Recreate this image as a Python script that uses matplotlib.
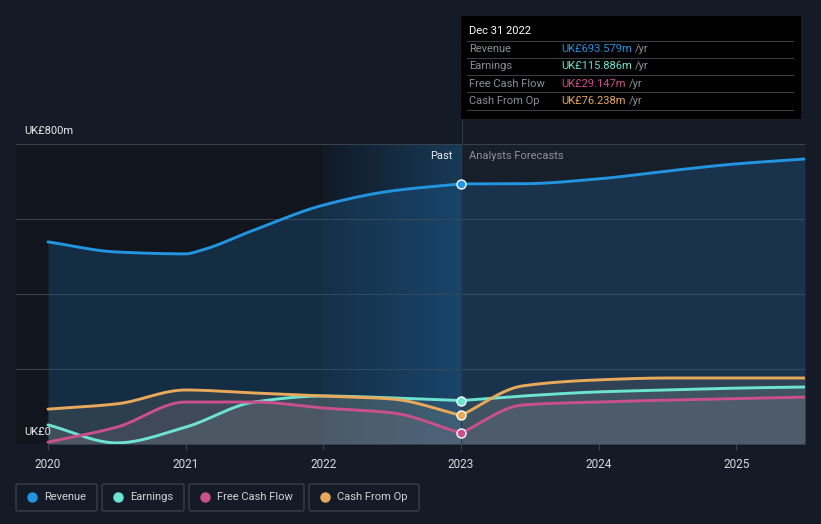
import numpy as np
import matplotlib
matplotlib.use("Agg")
import matplotlib.pyplot as plt
from matplotlib.patches import Rectangle, FancyBboxPatch
from matplotlib.lines import Line2D

plt.rcParams['font.family'] = ['Roboto', 'DejaVu Sans']

# values in UK£m
past_x = [2020.0, 2020.5, 2021.0, 2021.1, 2021.5, 2022.0, 2022.5, 2023.0]
fc_x = [2023.0, 2023.45, 2024.0, 2024.5, 2025.0, 2025.5]

revenue_past = [539, 512, 507, 515, 571, 637, 675, 693.6]
revenue_fc = [693.6, 694, 707, 728, 747, 760]

earn_x = [2020.0, 2020.5, 2021.0, 2021.5, 2022.0, 2022.5, 2023.0]
earnings_past = [51, 3, 45, 112, 128, 123, 115.9]
earnings_fc = [115.9, 128, 139, 144, 149, 152]

fcf_x = [2020.0, 2020.5, 2021.0, 2021.5, 2022.0, 2022.5, 2023.0]
fcf_past = [5, 45, 112, 112, 96, 83, 29.1]
fcf_fc = [29.1, 104, 112, 117, 121, 125]

cfo_x = [2020.0, 2020.5, 2021.0, 2021.5, 2022.0, 2022.5, 2023.0]
cfo_past = [93, 107, 144, 136, 128, 120, 76.2]
cfo_fc = [76.2, 155, 171, 176, 176, 176]

names = ['Revenue', 'Earnings', 'Free Cash Flow', 'Cash From Op']
colors = ['#2394df', '#6de3d1', '#c9508a', '#e8aa5a']
tip_values = ['UK£693.579m', 'UK£115.886m', 'UK£29.147m', 'UK£76.238m']
years = [2020, 2021, 2022, 2023, 2024, 2025]

BG = '#151b26'
W, H = 821, 524


def pchip(x, y, n=200):
    x = np.asarray(x, float)
    y = np.asarray(y, float)
    h = np.diff(x)
    d = np.diff(y) / h
    m = np.zeros_like(y)
    for i in range(1, len(y) - 1):
        if d[i - 1] * d[i] > 0:
            w1 = 2 * h[i] + h[i - 1]
            w2 = h[i] + 2 * h[i - 1]
            m[i] = (w1 + w2) / (w1 / d[i - 1] + w2 / d[i])
    m[0] = d[0]
    m[-1] = d[-1]
    xs = np.linspace(x[0], x[-1], n)
    idx = np.clip(np.searchsorted(x, xs) - 1, 0, len(h) - 1)
    t = (xs - x[idx]) / h[idx]
    h00 = 2 * t**3 - 3 * t**2 + 1
    h10 = t**3 - 2 * t**2 + t
    h01 = -2 * t**3 + 3 * t**2
    h11 = t**3 - t**2
    ys = h00 * y[idx] + h10 * h[idx] * m[idx] + h01 * y[idx + 1] + h11 * h[idx] * m[idx + 1]
    return xs, ys


def fx(px):
    return px / W


def fy(py):
    return 1 - py / H


fig = plt.figure(figsize=(W / 100, H / 100), dpi=100, facecolor=BG)
ax = fig.add_axes([fx(16), fy(444), fx(805) - fx(16), fy(144) - fy(444)])
ax.set_facecolor(BG)
x0 = 2020 - 32 / 137.7
x1 = 2025.5
ax.set_xlim(x0, x1)
ax.set_ylim(0, 800)

# background regions
ax.axvspan(x0, 2022, color='#11151d', zorder=0, lw=0)
ax.axvspan(2023, x1, color='#171f2b', zorder=0, lw=0)
grad = np.linspace(0, 1, 256).reshape(1, -1)
ax.imshow(grad, extent=[2022, 2023, 0, 800], aspect='auto', cmap=matplotlib.colors.LinearSegmentedColormap.from_list(
    'band', ['#111a26', '#173a58']), zorder=0.5)

for yv in [200, 400, 600, 800]:
    ax.axhline(yv, color='#3a404b', lw=0.8, zorder=1)
ax.axhline(0, color='#3a404b', lw=0.8, zorder=1)

series = [
    (past_x, revenue_past, revenue_fc),
    (earn_x, earnings_past, earnings_fc),
    (fcf_x, fcf_past, fcf_fc),
    (cfo_x, cfo_past, cfo_fc),
]

for i, (px, yp, yf) in enumerate(series):
    xs1, ys1 = pchip(px, yp)
    xs2, ys2 = pchip(fc_x, yf)
    xs = np.concatenate([xs1, xs2])
    ys = np.concatenate([ys1, ys2])
    if i == 0:
        ax.fill_between(xs, 0, ys, color='#1d5a8a', alpha=0.35, lw=0, zorder=2)
    else:
        ax.fill_between(xs, 0, ys, color='#8a8f9a', alpha=0.13, lw=0, zorder=2)
        ax.fill_between(xs, 0, ys, color=colors[i], alpha=0.05, lw=0, zorder=2)
    ax.plot(xs, ys, color=colors[i], lw=2.1, zorder=4, solid_capstyle='round')
    ax.scatter([2023], [yp[-1]], s=42, color=colors[i], edgecolor='white', linewidth=1.0, zorder=6)

ax.axvline(2023, color='#2f3a48', lw=0.8, zorder=3)

for s in ax.spines.values():
    s.set_visible(False)
ax.set_yticks([])
ax.set_xticks(years)
ax.set_xticklabels([str(y) for y in years], color='#d6d9de', fontsize=8.5)
ax.tick_params(axis='x', length=4, color='#3a404b', pad=6)

fig.text(fx(24), fy(131), 'UK£800m', color='#e8eaed', fontsize=8, va='center')
fig.text(fx(24), fy(432), 'UK£0', color='#e8eaed', fontsize=8, va='center')
fig.text(fx(452), fy(156), 'Past', color='#e8eaed', fontsize=8, va='center', ha='right')
fig.text(fx(469), fy(156), 'Analysts Forecasts', color='#8c919a', fontsize=8, va='center')

# tooltip
fig.add_artist(Line2D([fx(461.5), fx(461.5)], [fy(16), fy(144)], color='#2f3a48', lw=0.8))
fig.add_artist(Rectangle((fx(461), fy(119)), fx(801) - fx(461), fy(16) - fy(119),
                         facecolor='black', edgecolor='none', zorder=10))
fig.text(fx(469), fy(31), 'Dec 31 2022', color='white', fontsize=8, va='center', zorder=11)
row_y = [49, 66, 84, 101]
for yy in [41, 58, 75, 92, 110]:
    fig.add_artist(Line2D([fx(467), fx(793)], [fy(yy), fy(yy)], color='#3a3d42', lw=0.8, zorder=11))
fig.canvas.draw()
rend = fig.canvas.get_renderer()
for i in range(4):
    fig.text(fx(469), fy(row_y[i]), names[i], color='#8c9096', fontsize=8, va='center', zorder=11)
    t = fig.text(fx(561), fy(row_y[i]), tip_values[i], color=colors[i], fontsize=8, va='center', zorder=11)
    bb = t.get_window_extent(renderer=rend)
    fig.text(bb.x1 / W + fx(3), fy(row_y[i]), '/yr', color='#8c9096', fontsize=8, va='center', zorder=11)

# legend boxes
boxes = [(16, 97), (102, 184), (189, 304), (309, 419)]
for i, (a, b) in enumerate(boxes):
    fig.add_artist(FancyBboxPatch((fx(a), fy(511)), fx(b) - fx(a), fy(484) - fy(511),
                                  boxstyle='round,pad=0,rounding_size=0.003', facecolor='none',
                                  edgecolor='#3d434d', lw=0.9))
    fig.add_artist(Line2D([fx(a + 16)], [fy(497)], marker='o', markersize=6.5, color=colors[i], lw=0))
    fig.text(fx(a + 28), fy(497), names[i], color='#d0d3d8', fontsize=8, va='center')

fig.savefig('out.png', dpi=100, facecolor=BG)
